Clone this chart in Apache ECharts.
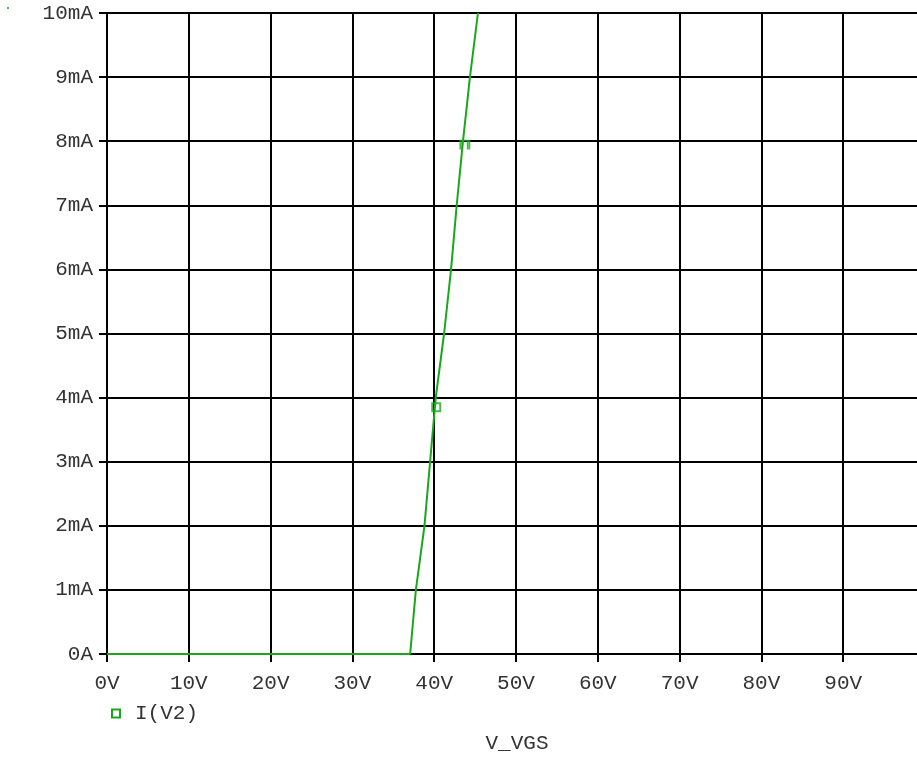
<!DOCTYPE html>
<html>
<head>
<meta charset="utf-8">
<script src="https://cdn.jsdelivr.net/npm/echarts@6/dist/echarts.min.js"></script>
<style>
  html, body { margin: 0; padding: 0; background: #fff; overflow: hidden; }
  #chart { width: 928px; height: 757px; }
</style>
</head>
<body>
<div id="chart"></div>
<script>
// Drain current I(V2) against gate sweep V_VGS
const vgs = [0, 37.06, 37.76, 38.81, 39.50, 40.19, 41.21, 42.06, 42.75, 43.52, 44.37, 45.35];
const idrain = [0, 0, 1, 2, 3, 4, 5, 6, 7, 8, 9, 10]; // mA

// Trace marker positions
const markerV = [40.25];
const markerI = [3.85];
const cursorV = [43.75];
const cursorI = [7.94];

const xTicks = ['0V', '10V', '20V', '30V', '40V', '50V', '60V', '70V', '80V', '90V', ''];
const seriesName = 'I(V2)';
const xTitle = 'V_VGS';

const green = '#1aa81a';
const font = 'Liberation Mono, monospace';

const chart = echarts.init(document.getElementById('chart'));
chart.setOption({
  animation: false,
  backgroundColor: '#fff',
  grid: { left: 107, top: 13, right: 0, bottom: 103, containLabel: false },
  xAxis: {
    type: 'value', min: 0, max: 100, interval: 10,
    axisLine: { show: true, onZero: false, lineStyle: { color: '#000', width: 2 } },
    axisTick: { show: true, length: 8, lineStyle: { color: '#000', width: 2 } },
    splitLine: { show: true, lineStyle: { color: '#000', width: 2 } },
    axisLabel: {
      margin: 19, color: '#333', fontFamily: font, fontSize: 21,
      formatter: v => xTicks[Math.round(v / 10)]
    }
  },
  yAxis: {
    type: 'value', min: 0, max: 10, interval: 1,
    axisLine: { show: true, lineStyle: { color: '#000', width: 2 } },
    axisTick: { show: true, length: 8, lineStyle: { color: '#000', width: 2 } },
    splitLine: { show: true, lineStyle: { color: '#000', width: 2 } },
    axisLabel: {
      margin: 14, color: '#333', fontFamily: font, fontSize: 21,
      formatter: v => (v === 0 ? '0A' : v + 'mA')
    }
  },
  legend: {
    left: 106, top: 698,
    itemWidth: 8, itemHeight: 8,
    icon: 'rect',
    data: [{ name: seriesName, itemStyle: { color: 'transparent', borderColor: green, borderWidth: 2 } }],
    textStyle: { color: '#333', fontFamily: font, fontSize: 21, padding: [0, 0, 0, 10] }
  },
  graphic: [
    { type: 'text', style: { text: xTitle, x: 517, y: 743, align: 'center', verticalAlign: 'middle', fill: '#333', font: '21px ' + font } },
    { type: 'circle', shape: { cx: 8, cy: 8, r: 1 }, style: { fill: green } }
  ],
  series: [
    {
      name: seriesName, type: 'line', symbol: 'none',
      lineStyle: { color: green, width: 2 },
      itemStyle: { color: green },
      data: vgs.map((v, i) => [v, idrain[i]])
    },
    {
      type: 'scatter', symbol: 'rect', symbolSize: 8,
      itemStyle: { color: 'transparent', borderColor: green, borderWidth: 2 },
      data: markerV.map((v, i) => [v, markerI[i]]), z: 5
    },
    {
      type: 'scatter', symbol: 'path://M0,0H12M1,0V9M3,0V9M9,0V9M11,0V9', symbolSize: [11, 9],
      itemStyle: { color: 'none', borderColor: green, borderWidth: 1.5 },
      data: cursorV.map((v, i) => [v, cursorI[i]]), z: 5
    }
  ]
});
</script>
</body>
</html>
